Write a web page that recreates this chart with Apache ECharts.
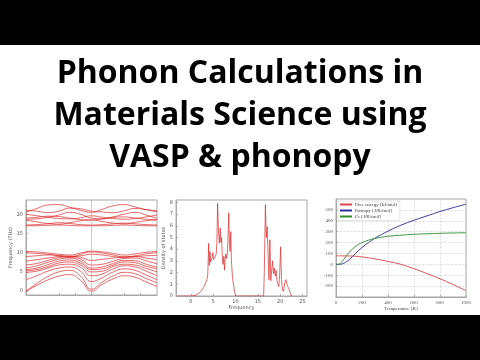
<!DOCTYPE html>
<html><head><meta charset="utf-8">
<script src="https://cdn.jsdelivr.net/npm/echarts@6/dist/echarts.min.js"></script>
<style>html,body{margin:0;padding:0;background:#fff}#c{width:480px;height:360px}</style>
</head><body><div id="c"></div>
<script>
// ---- Title ----
const titleLines = ['Phonon Calculations in', 'Materials Science using', 'VASP & phonopy'];

// ---- Band structure (path coordinate 0..12, Γ at 0 and 6) ----
const pathX = [0,1,2,3,4,5,6,7,8,9,10,11,12];
const band01 = [0, 1.5, 2.9, 3.9, 4.3, 2.8, 0, 1.8, 3.2, 4.0, 3.6, 2.4, 1.2];
const band02 = [0, 2.0, 3.8, 5.0, 5.4, 3.9, 0.5, 2.4, 4.0, 4.9, 4.5, 3.3, 2.2];
const band03 = [3.0, 4.0, 5.2, 6.0, 6.3, 5.2, 2.5, 3.5, 5.0, 5.8, 5.4, 4.2, 3.0];
const band04 = [4.9, 5.2, 6.0, 6.8, 7.0, 6.2, 4.0, 4.5, 5.8, 6.6, 6.3, 5.2, 4.0];
const band05 = [5.3, 5.6, 6.4, 7.3, 7.6, 6.8, 5.0, 5.2, 6.4, 7.0, 6.8, 5.9, 5.0];
const band06 = [5.6, 6.0, 6.9, 7.8, 8.1, 7.3, 5.6, 5.8, 6.8, 7.6, 7.4, 6.5, 5.8];
const band07 = [6.0, 6.6, 7.5, 8.3, 8.6, 7.8, 6.0, 6.3, 7.2, 8.0, 7.9, 7.0, 6.2];
const band08 = [6.8, 7.2, 8.0, 8.7, 8.9, 8.3, 6.8, 7.0, 7.8, 8.5, 8.6, 7.9, 7.1];
const band09 = [7.8, 8.2, 8.6, 9.0, 9.1, 8.8, 8.0, 8.3, 8.6, 8.9, 9.0, 8.6, 8.2];
const band10 = [9.0, 9.2, 9.4, 9.3, 9.0, 9.2, 9.6, 9.4, 9.0, 8.8, 9.0, 9.2, 9.3];
const band11 = [10.0, 9.8, 9.6, 9.2, 8.8, 9.6, 10.2, 9.9, 9.4, 8.9, 9.2, 9.7, 10.0];
const band12 = [10.3, 10.2, 9.9, 9.6, 9.4, 9.9, 10.4, 10.2, 9.8, 9.4, 9.7, 10.1, 10.3];
const band13 = [17.0, 17.0, 17.1, 17.2, 17.1, 17.0, 17.0, 17.0, 17.1, 17.2, 17.1, 17.0, 17.0];
const band14 = [17.2, 17.3, 17.5, 17.8, 17.6, 17.3, 17.2, 17.3, 17.5, 17.7, 17.5, 17.3, 17.2];
const band15 = [18.5, 18.0, 17.6, 17.4, 17.8, 18.3, 18.5, 18.1, 17.7, 17.5, 17.9, 18.3, 18.5];
const band16 = [18.7, 18.8, 19.2, 19.8, 20.5, 20.0, 19.0, 18.8, 19.3, 20.0, 20.5, 19.8, 18.9];
const band17 = [19.0, 19.2, 19.5, 19.4, 19.0, 18.6, 18.5, 18.8, 19.2, 19.3, 19.0, 18.7, 18.6];
const band18 = [20.0, 19.6, 19.2, 18.9, 18.8, 19.1, 19.6, 19.2, 18.9, 18.7, 18.9, 19.3, 19.8];
const band19 = [20.5, 21.5, 22.4, 22.5, 21.8, 21.0, 20.5, 21.3, 22.2, 22.5, 21.9, 21.2, 20.6];
const band20 = [21.0, 20.8, 20.4, 20.8, 21.6, 21.4, 20.8, 20.6, 20.4, 20.9, 21.5, 21.2, 20.9];
const bandList = [band01,band02,band03,band04,band05,band06,band07,band08,band09,band10,
                  band11,band12,band13,band14,band15,band16,band17,band18,band19,band20];
const bandTicks = [0, 5, 10, 15, 20];

// ---- Density of states ----
const dosFreq = [-3, 0, 1, 1.5, 2, 2.5, 3, 3.3, 3.6, 3.8, 3.9, 4.0, 4.15, 4.3, 4.45, 4.6, 4.8, 4.95, 5.1, 5.3, 5.5, 5.7, 5.85, 6.0, 6.2, 6.4, 6.6, 6.75, 6.9, 7.1, 7.25, 7.4, 7.55, 7.7, 7.85, 8.0, 8.2, 8.35, 8.5, 8.65, 8.8, 8.95, 9.1, 9.3, 9.5, 9.7, 9.9, 10.05, 16.3, 16.45, 16.7, 16.9, 17.1, 17.3, 17.5, 17.7, 17.9, 18.1, 18.3, 18.5, 18.7, 18.9, 19.1, 19.3, 19.5, 19.7, 19.9, 20.1, 20.3, 20.5, 20.7, 20.9, 21.1, 21.3, 21.5, 21.7, 21.9, 22.1, 22.3, 22.5, 22.7];
const dosValue = [0, 0, 0.05, 0.15, 0.3, 0.5, 0.8, 1.1, 1.4, 1.8, 3.0, 4.5, 2.6, 3.8, 2.9, 3.0, 3.3, 3.7, 3.1, 3.2, 3.4, 3.6, 4.6, 7.9, 5.6, 4.5, 5.8, 4.6, 5.0, 3.0, 2.7, 3.4, 2.2, 3.1, 3.6, 3.2, 3.6, 5.2, 7.1, 4.6, 3.8, 5.5, 3.0, 1.8, 1.1, 0.6, 0.2, 0, 0, 2.0, 7.8, 5.0, 5.9, 3.6, 1.4, 4.8, 1.3, 2.2, 3.0, 1.9, 2.4, 1.7, 2.2, 1.3, 1.0, 0.8, 2.0, 4.2, 1.4, 0.6, 0.4, 0.8, 1.2, 1.4, 1.0, 0.8, 0.7, 0.5, 0.2, 0, 0];
const dosXTicks = [0, 5, 10, 15, 20, 25];
const dosYTicks = [0, 1, 2, 3, 4, 5, 6, 7, 8];

// ---- Thermal properties ----
const temps = [0, 25, 50, 75, 100, 150, 200, 250, 300, 400, 500, 600, 700, 800, 900, 1000];
const freeEnergy = [78, 78, 78, 77.5, 77, 74, 68, 60, 50, 27, 0, -40, -85, -132, -185, -242];
const entropy = [0, 0, 5, 20, 40, 100, 155, 200, 240, 305, 360, 405, 445, 485, 520, 552];
const heatCap = [0, 2, 30, 70, 110, 165, 200, 222, 238, 258, 268, 276, 281, 285, 288, 290];
const thermXTicks = [0, 200, 400, 600, 800, 1000];
const thermYTicks = [-200, -100, 0, 100, 200, 300, 400, 500];
const legendNames = ['Free energy [kJ/mol]', 'Entropy [J/K/mol]', 'Cv [J/K/mol]'];

const chart = echarts.init(document.getElementById('c'), null, {renderer: 'canvas'});
const frame = '#a8a8a8';
const lbl = {fontSize: 5, color: '#555', fontFamily: 'DejaVu Sans'};
const red = '#d8282a';

function axisCommon(extra) {
  return Object.assign({
    type: 'value',
    axisLine: {show: true, onZero: false, lineStyle: {color: frame, width: 1}},
    axisTick: {show: true, inside: true, length: 2, lineStyle: {color: frame}},
    splitLine: {show: false},
    axisLabel: Object.assign({margin: 3}, lbl),
    nameTextStyle: Object.assign({}, lbl),
  }, extra);
}

const series = [];
bandList.forEach(function (b, i) {
  series.push({
    type: 'line', xAxisIndex: 0, yAxisIndex: 0, smooth: 0.5, symbol: 'none',
    data: pathX.map(function (x, k) { return [x, b[k]]; }),
    lineStyle: {color: red, width: 0.7}, silent: true,
    markLine: i === 0 ? {symbol: 'none', silent: true, label: {show: false},
      lineStyle: {color: frame, width: 0.6, type: 'solid'}, data: [{xAxis: 6}]} : undefined
  });
});
series.push({
  type: 'line', xAxisIndex: 1, yAxisIndex: 1, symbol: 'none',
  data: dosFreq.map(function (x, k) { return [x, dosValue[k]]; }),
  lineStyle: {color: red, width: 0.7}
});
const thermColors = ['#d9464a', '#2d2d9c', '#2f8c2f'];
[freeEnergy, entropy, heatCap].forEach(function (arr, i) {
  series.push({
    name: legendNames[i], type: 'line', xAxisIndex: 2, yAxisIndex: 2, symbol: 'none', smooth: 0.3,
    data: temps.map(function (t, k) { return [t, arr[k]]; }),
    lineStyle: {color: thermColors[i], width: 0.9}, itemStyle: {color: thermColors[i]}
  });
});

const graphics = [
  {type: 'rect', shape: {x: 0, y: 0, width: 480, height: 45}, style: {fill: '#000'}},
  {type: 'rect', shape: {x: 0, y: 315, width: 480, height: 45}, style: {fill: '#000'}}
];
const titleY = [78, 120, 162];
titleLines.forEach(function (t, i) {
  graphics.push({type: 'text', left: 'center', top: titleY[i] - 20,
    style: {text: t, font: 'bold 32px "Open Sans"', fill: '#000'}});
});

const serifLbl = {fontSize: 5, color: '#555', fontFamily: 'Liberation Serif'};

chart.setOption({
  animation: false,
  backgroundColor: '#fff',
  graphic: graphics,
  legend: {
    data: legendNames, orient: 'vertical', left: 338, top: 201,
    itemWidth: 12, itemHeight: 2, itemGap: 1, icon: 'rect',
    backgroundColor: '#fff', borderColor: '#ccc', borderWidth: 0.5, padding: [1, 3, 1, 2],
    formatter: function (n) { return n === 'Cv [J/K/mol]' ? 'C{s|v} [J/K/mol]' : n; },
    textStyle: {fontSize: 5, color: '#333', fontFamily: 'Liberation Serif', padding: [0,0,0,-2],
      rich: {s: {fontSize: 3.5, fontFamily: 'Liberation Serif', color: '#333', verticalAlign: 'bottom', padding: [2,0,0,0]}}}
  },
  grid: [
    {left: 26, top: 200, width: 131, height: 95, show: true, borderColor: frame, borderWidth: 1},
    {left: 176, top: 200, width: 131, height: 96, show: true, borderColor: frame, borderWidth: 1},
    {left: 336, top: 199, width: 130, height: 98, show: true, borderColor: frame, borderWidth: 1}
  ],
  xAxis: [
    axisCommon({gridIndex: 0, min: 0, max: 12, axisLabel: {show: false},
      axisTick: {show: true, inside: true, length: 2, lineStyle: {color: frame}, customValues: [3, 4.5, 6, 9, 10.5]}}),
    axisCommon({gridIndex: 1, min: -3.3, max: 26, name: 'Frequency', nameLocation: 'middle', nameGap: 8,
      axisLabel: Object.assign({margin: 3, customValues: dosXTicks}, lbl),
      axisTick: {show: true, inside: true, length: 2, lineStyle: {color: frame}, customValues: dosXTicks}}),
    axisCommon({gridIndex: 2, min: 0, max: 1000, interval: 200, name: 'Temperature [K]', nameLocation: 'middle', nameGap: 8,
      nameTextStyle: {fontSize: 5, color: '#444', fontFamily: 'Liberation Serif'},
      axisLabel: Object.assign({margin: 3, formatter: function (v) { return String(v); }}, serifLbl),
      splitLine: {show: true, lineStyle: {color: '#ccc', width: 0.6, type: 'dashed'}}})
  ],
  yAxis: [
    axisCommon({gridIndex: 0, min: -1, max: 23.7, name: 'Frequency (THz)', nameLocation: 'middle', nameGap: 8,
      axisLabel: Object.assign({margin: 3, customValues: bandTicks}, lbl),
      axisTick: {show: true, inside: true, length: 2, lineStyle: {color: frame}, customValues: bandTicks}}),
    axisCommon({gridIndex: 1, min: 0, max: 8.2, name: 'Density of states', nameLocation: 'middle', nameGap: 9,
      axisLabel: Object.assign({margin: 3, customValues: dosYTicks}, lbl),
      axisTick: {show: true, inside: true, length: 2, lineStyle: {color: frame}, customValues: dosYTicks}}),
    axisCommon({gridIndex: 2, min: -300, max: 600, interval: 100,
      axisLabel: Object.assign({margin: 3, showMinLabel: false, showMaxLabel: false, formatter: function (v) { return String(v); }}, serifLbl),
      splitLine: {show: true, lineStyle: {color: '#ccc', width: 0.6, type: 'dashed'}}})
  ],
  series: series
});
</script></body></html>
